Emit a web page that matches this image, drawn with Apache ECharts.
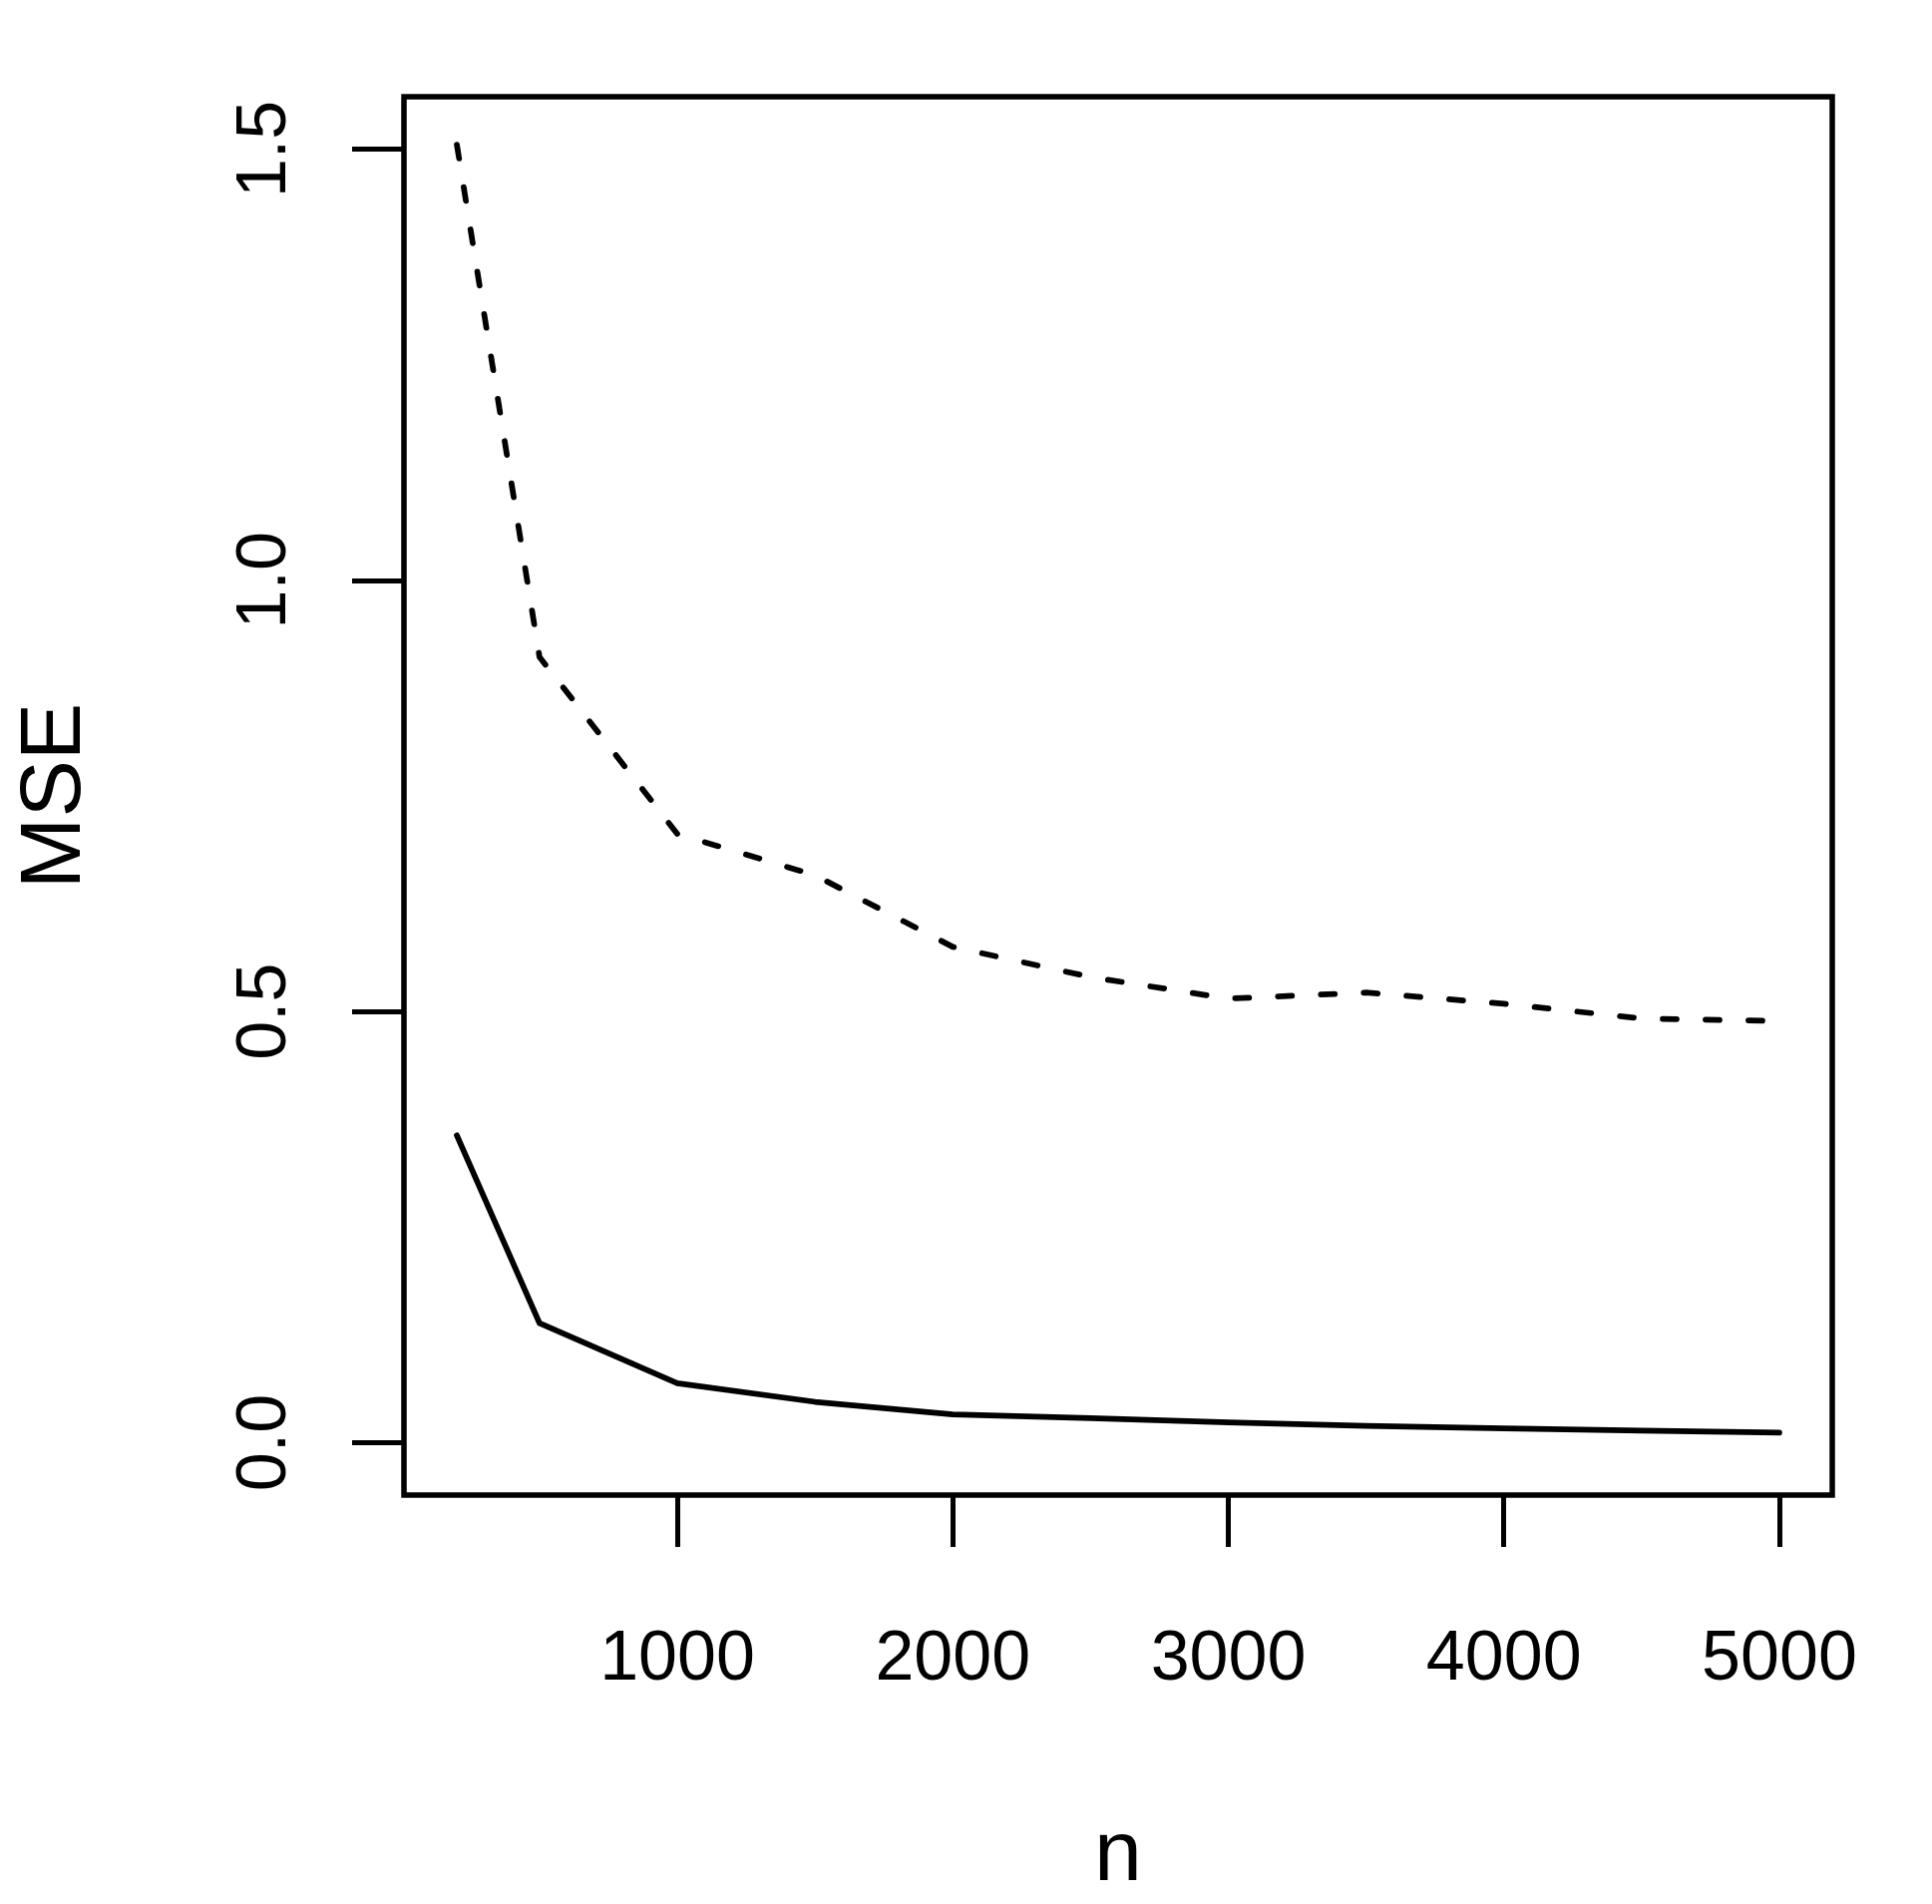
<!DOCTYPE html>
<html>
<head>
<meta charset="utf-8">
<script src="https://cdn.jsdelivr.net/npm/echarts@6/dist/echarts.min.js"></script>
<style>
  html, body { margin: 0; padding: 0; background: #ffffff; }
  #chart { width: 1937px; height: 1909px; }
</style>
</head>
<body>
<div id="chart"></div>
<script>
// Sample sizes
const nValues = [200, 500, 1000, 1500, 2000, 2500, 3000, 3500, 4000, 4500, 5000];
// Solid line MSE
const mseSolid = [0.3565, 0.1387, 0.069, 0.0475, 0.0329, 0.0285, 0.0237, 0.0196, 0.0167, 0.0141, 0.0118];
// Dashed line MSE
const mseDashed = [1.505, 0.911, 0.706, 0.658, 0.575, 0.540, 0.515, 0.522, 0.509, 0.492, 0.489];
// Tick labels
const xTicks = [1000, 2000, 3000, 4000, 5000];
const yTicks = [0, 0.5, 1.0, 1.5];

const FONT = 'Liberation Sans, Arial, Helvetica, sans-serif';

const chart = echarts.init(document.getElementById('chart'), null, { renderer: 'canvas' });

const option = {
  backgroundColor: '#ffffff',
  animation: false,
  grid: {
    left: 405, top: 97, width: 1432, height: 1405,
    containLabel: false,
    show: true,
    borderColor: '#000000',
    borderWidth: 5.5,
    backgroundColor: 'transparent'
  },
  xAxis: {
    type: 'value',
    min: 8, max: 5192,
    name: 'n',
    nameLocation: 'middle',
    nameGap: 319,
    nameTextStyle: { fontFamily: FONT, fontSize: 86, color: '#000' },
    axisLine: { show: false, onZero: false },
    splitLine: { show: false },
    axisTick: {
      show: true, inside: false, length: 52,
      customValues: xTicks,
      lineStyle: { color: '#000', width: 5 }
    },
    axisLabel: {
      show: true, margin: 131,
      customValues: xTicks,
      fontFamily: FONT, fontSize: 70, color: '#000',
      formatter: (v) => String(v)
    }
  },
  yAxis: {
    type: 'value',
    min: -0.0606, max: 1.5606,
    name: 'MSE',
    nameLocation: 'middle',
    nameGap: 306,
    nameRotate: 90,
    nameTextStyle: { fontFamily: FONT, fontSize: 86, color: '#000' },
    axisLine: { show: false, onZero: false },
    splitLine: { show: false },
    axisTick: {
      show: true, inside: false, length: 52,
      customValues: yTicks,
      lineStyle: { color: '#000', width: 5 }
    },
    axisLabel: {
      show: true, margin: 103, rotate: 90,
      customValues: yTicks,
      fontFamily: FONT, fontSize: 70, color: '#000',
      formatter: (v) => Number(v).toFixed(1)
    }
  },
  series: [
    {
      name: 'solid',
      type: 'line',
      data: nValues.map((n, i) => [n, mseSolid[i]]),
      symbol: 'none',
      lineStyle: { color: '#000', width: 5.75, type: 'solid', cap: 'round', join: 'round' },
      z: 3
    },
    {
      name: 'dashed',
      type: 'line',
      data: nValues.map((n, i) => [n, mseDashed[i]]),
      symbol: 'none',
      lineStyle: { color: '#000', width: 5.75, type: [14, 29], cap: 'round', join: 'round' },
      z: 3
    }
  ]
};

chart.setOption(option);
</script>
</body>
</html>
